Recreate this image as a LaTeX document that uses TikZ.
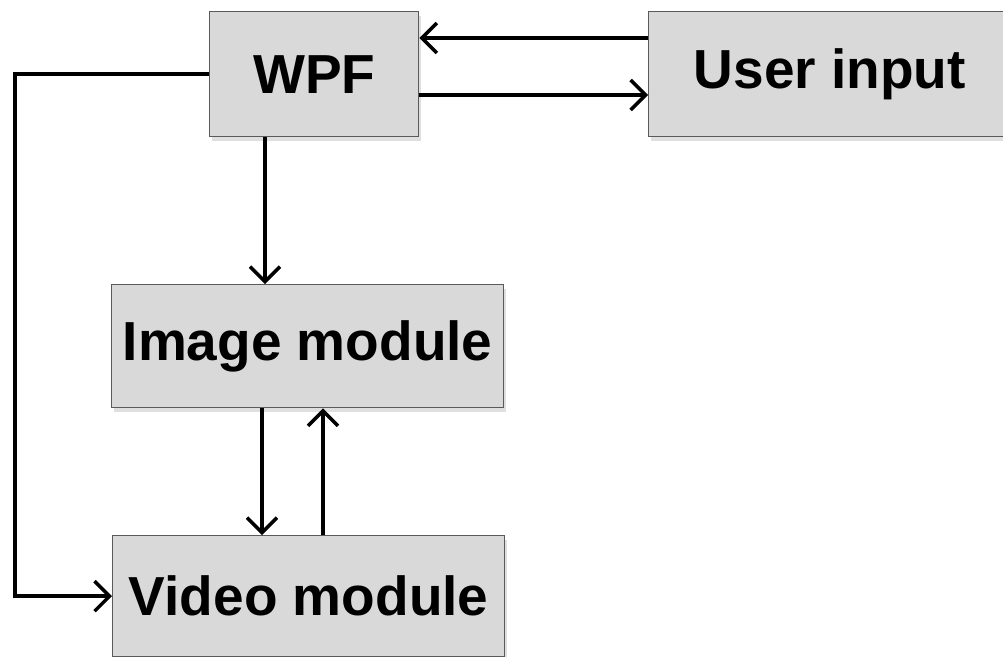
\documentclass[tikz,border=0pt]{standalone}
\usepackage{fontspec}
\setmainfont{Liberation Sans}
\usetikzlibrary{arrows.meta,shadows,calc}
\definecolor{boxfill}{HTML}{D9D9D9}
\definecolor{boxline}{HTML}{5A5A5A}
\begin{document}
\begin{tikzpicture}[x=1pt,y=-1pt,
  block/.style={draw=boxline, line width=1.4pt, fill=boxfill, anchor=north west,
    inner sep=0pt, font=\fontsize{55}{60}\selectfont\bfseries,
    drop shadow={opacity=0.25, shadow xshift=2pt, shadow yshift=-4pt}},
  arr/.style={line width=3.5pt, -{Straight Barb[length=15pt,width=30pt,line width=3.5pt]}}]
  \clip (0,0) rectangle (1003,656);
  \fill[white] (0,0) rectangle (1003,656);

  % blocks
  \node[block, minimum width=209pt, minimum height=125pt] (wpf) at (209,11) {WPF};
  \node[block, minimum width=362pt, minimum height=125pt] (ui) at (648,11) {User input};
  \node[block, minimum width=392pt, minimum height=123pt] (img) at (111,284) {Image module};
  \node[block, minimum width=392pt, minimum height=121pt] (vid) at (112,535) {Video module};

  % WPF <-> user input
  \draw[arr] ([yshift=-27pt]ui.north west) -- ([yshift=-27pt]wpf.north east);
  \draw[arr] ([yshift=-84pt]wpf.north east) -- ([yshift=-84pt]ui.north west);

  % WPF -> image module
  \coordinate (a) at ([xshift=56pt]wpf.south west);
  \draw[arr] (a) -- (a |- img.north);

  % image module <-> video module
  \coordinate (b) at ([xshift=151pt]img.south west);
  \draw[arr] (b) -- (b |- vid.north);
  \coordinate (c) at ([xshift=211pt]vid.north west);
  \draw[arr] (c) -- (c |- img.south);

  % WPF -> video module, around the left side
  \coordinate (loop) at (15,0);
  \draw[arr] (wpf.west) -- (wpf.west -| loop) |- (vid.west);
\end{tikzpicture}
\end{document}
